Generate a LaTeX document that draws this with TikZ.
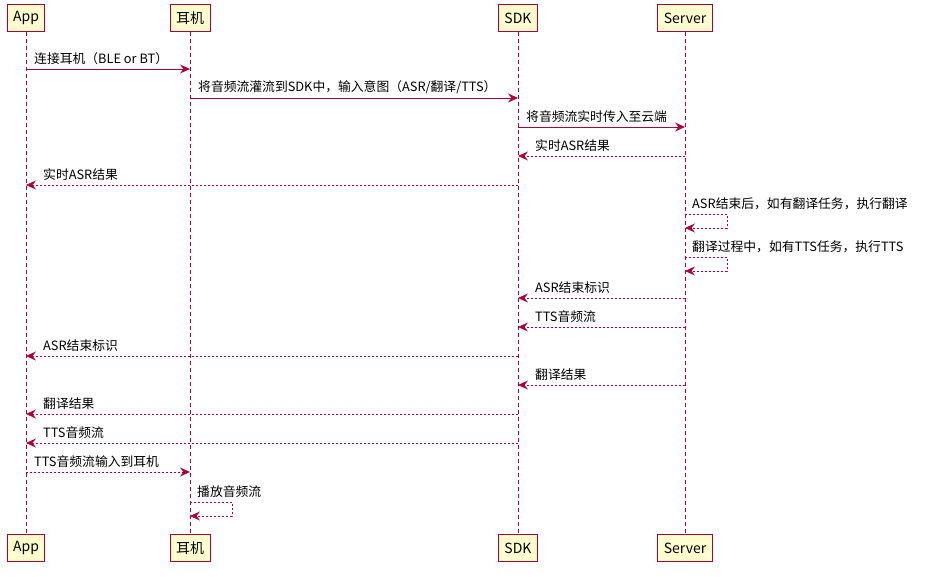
\documentclass[tikz,border=0pt]{standalone}
\usepackage{fontspec}
\setmainfont{Noto Sans CJK SC}
\usetikzlibrary{arrows.meta}
\definecolor{umlred}{HTML}{A80036}
\definecolor{umlbox}{HTML}{FEFECE}
\tikzset{
  head/.style={draw=umlred, fill=umlbox, line width=1pt, minimum height=27pt, inner xsep=6pt, font=\fontsize{14}{16}\selectfont},
  life/.style={draw=umlred, line width=0.6pt, dash pattern=on 4pt off 3pt},
  msg/.style={draw=umlred, line width=0.8pt, -{Stealth[length=10pt,width=9pt,inset=3.5pt]}},
  reply/.style={msg, dash pattern=on 2pt off 2pt},
  lbl/.style={font=\fontsize{12.8}{15}\selectfont, anchor=south west, inner sep=1pt}
}
\begin{document}
\begin{tikzpicture}[x=1pt, y=-1pt]
  \useasboundingbox (0,0) rectangle (928,577);

  % participants, top and bottom
  \foreach \n/\x/\t in {app/26/App, ear/190/耳机, sdk/518/SDK, srv/685/Server} {
    \node[head] (\n top) at (\x, 18) {\t};
    \node[head] (\n bot) at (\x, 548) {\t};
    \draw[life] (\n top.south) -- (\n bot.north);
  }

  % messages between lifelines
  \foreach \i/\a/\b/\y/\s/\t in {
      1/26/190/69/msg/{连接耳机（BLE or BT）},
      2/190/518/98/msg/{将音频流灌流到SDK中，输入意图（ASR/翻译/TTS）},
      3/518/685/127/msg/{将音频流实时传入至云端},
      4/685/518/156/reply/{实时ASR结果},
      5/518/26/185/reply/{实时ASR结果},
      8/685/518/298/reply/{ASR结束标识},
      9/685/518/327/reply/{TTS音频流},
      10/518/26/356/reply/{ASR结束标识},
      11/685/518/385/reply/{翻译结果},
      12/518/26/414/reply/{翻译结果},
      13/518/26/443/reply/{TTS音频流},
      14/26/190/472/reply/{TTS音频流输入到耳机}} {
    \coordinate (from\i) at (\a, \y);
    \coordinate (to\i) at (\b, \y);
    \draw[\s] (from\i) -- (to\i);
    \pgfmathsetmacro{\lx}{min(\a,\b)+(\b<\a ? 16 : 7)}
    \node[lbl] (text\i) at (\lx, \y-3) {\t};
  }

  % self messages
  \foreach \i/\x/\y/\t in {6/685/214/{ASR结束后，如有翻译任务，执行翻译},
      7/685/257/{翻译过程中，如有TTS任务，执行TTS},
      15/190/502/{播放音频流}} {
    \coordinate (out\i) at (\x, \y);
    \coordinate (back\i) at (\x, \y+14);
    \draw[reply] (out\i) -- ++(42,0) -- ++(0,14) -- (back\i);
    \node[lbl] (text\i) at (\x+6, \y-3) {\t};
  }
\end{tikzpicture}
\end{document}
